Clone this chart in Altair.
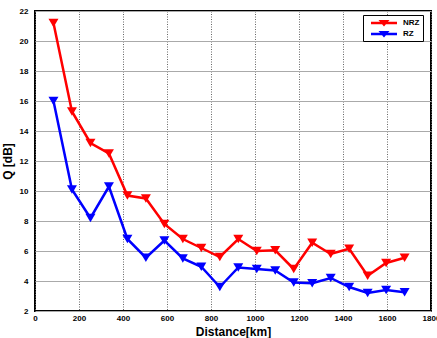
import altair as alt
import pandas as pd

distance = [84, 168, 252, 336, 420, 504, 588, 672, 756, 840,
            924, 1008, 1092, 1176, 1260, 1344, 1428, 1512, 1596, 1680]
nrz = [21.2, 15.3, 13.2, 12.5, 9.7, 9.5, 7.8, 6.8, 6.2, 5.6,
       6.8, 6.0, 6.05, 4.8, 6.55, 5.8, 6.15, 4.35, 5.2, 5.55]
rz = [16.0, 10.1, 8.2, 10.3, 6.8, 5.55, 6.7, 5.5, 4.95, 3.6,
      4.9, 4.8, 4.7, 3.9, 3.85, 4.2, 3.6, 3.2, 3.4, 3.25]
series = ["NRZ", "RZ"]
colors = ["#ff0000", "#0000ff"]
x_ticks = [0, 200, 400, 600, 800, 1000, 1200, 1400, 1600, 1800]
y_ticks = [2, 4, 6, 8, 10, 12, 14, 16, 18, 20, 22]

rows = []
for d, v in zip(distance, nrz):
    rows.append({"Distance": d, "Q": v, "Series": "NRZ"})
for d, v in zip(distance, rz):
    rows.append({"Distance": d, "Q": v, "Series": "RZ"})
df = pd.DataFrame(rows)

FONT = "Liberation Sans"

x = alt.X("Distance:Q", scale=alt.Scale(domain=[0, 1800], nice=False),
          axis=alt.Axis(values=x_ticks, title="Distance[km]", format="d",
                        labelFontSize=8, labelFontWeight="bold", labelFont=FONT,
                        titleFontSize=12, titleFontWeight="bold", titleFont=FONT,
                        titlePadding=4, labelPadding=3, ticks=False, domain=False,
                        gridDash=[1, 1.5], gridColor="#666666", gridWidth=1,
                        labelFlush=False))
y = alt.Y("Q:Q", scale=alt.Scale(domain=[2, 22], nice=False),
          axis=alt.Axis(values=y_ticks, title="Q [dB]",
                        labelFontSize=8, labelFontWeight="bold", labelFont=FONT,
                        titleFontSize=12, titleFontWeight="bold", titleFont=FONT,
                        titlePadding=5, labelPadding=7, ticks=False, domain=False,
                        gridColor="#aaaaaa", gridWidth=1.2, labelFlush=False))

legend_path = "M-2.6,-0.25L2.6,-0.25L2.6,0.25L-2.6,0.25Z M-1.1,-0.6L1.1,-0.6L0,0.7Z"
legend = alt.Legend(title=None, orient="none", legendX=328, legendY=4,
                    symbolType=legend_path, symbolSize=100,
                    symbolStrokeWidth=0, symbolOffset=13,
                    labelFontSize=8, labelFontWeight="bold", labelFont=FONT,
                    labelColor="black",
                    strokeColor="black", padding=3, rowPadding=2,
                    fillColor="white", labelOffset=14, symbolOpacity=1)
color = alt.Color("Series:N", scale=alt.Scale(domain=series, range=colors),
                  legend=legend)

lines = alt.Chart(df).mark_line(strokeWidth=2.5).encode(x=x, y=y, color=color, detail="Series:N")
points = alt.Chart(df).mark_point(shape="triangle-down", filled=True, size=100, opacity=1).encode(
    x=x, y=y, color=color)

chart = alt.layer(lines, points).properties(
    width=396, height=300,
    autosize=alt.AutoSizeParams(type="none"),
    padding={"left": 35, "top": 11, "right": 6, "bottom": 27},
).configure(background="white").configure_view(stroke="black", strokeWidth=2)

chart.save("out.html", embed_options={"renderer": "svg", "actions": False})
